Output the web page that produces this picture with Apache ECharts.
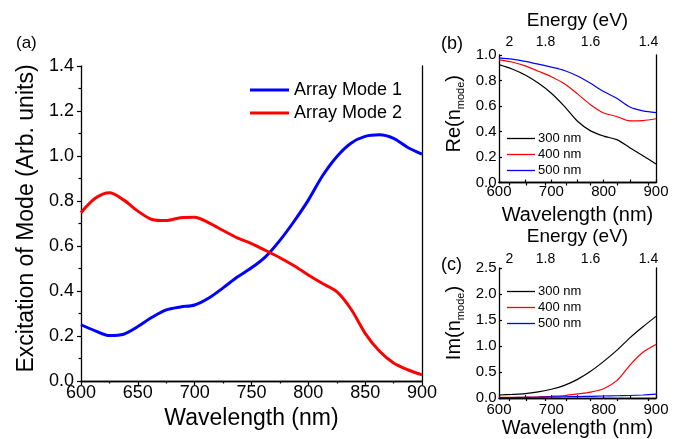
<!DOCTYPE html>
<html>
<head>
<meta charset="utf-8">
<script src="https://cdn.jsdelivr.net/npm/echarts@6/dist/echarts.min.js"></script>
<style>
  html, body { margin: 0; padding: 0; background: #fff; }
  #chart { width: 685px; height: 439px; }
</style>
</head>
<body>
<div id="chart"></div>
<script>
// (a) excitation of the two array modes
const wlA = [600, 612.5, 625, 637.5, 650, 662.5, 675, 687.5, 700, 712.5, 725, 737.5, 750,
             762.5, 775, 787.5, 800, 812.5, 825, 837.5, 850, 862.5, 875, 887.5, 900];
const mode1 = [0.25, 0.223, 0.202, 0.208, 0.242, 0.283, 0.316, 0.329, 0.338, 0.369, 0.414, 0.462, 0.503,
               0.553, 0.625, 0.71, 0.804, 0.912, 0.997, 1.057, 1.087, 1.094, 1.078, 1.038, 1.008];
const mode2 = [0.748, 0.812, 0.837, 0.805, 0.755, 0.718, 0.713, 0.726, 0.728, 0.703, 0.669, 0.636, 0.611,
               0.58, 0.548, 0.512, 0.471, 0.433, 0.397, 0.32, 0.212, 0.133, 0.08, 0.05, 0.027];

// (b), (c) effective mode index for three widths
const wlB = [600, 625, 650, 675, 700, 725, 750, 775, 800, 825, 850, 875, 900];
const re300 = [0.925, 0.89, 0.843, 0.78, 0.70, 0.597, 0.48, 0.405, 0.364, 0.336, 0.273, 0.21, 0.145];
const re400 = [0.962, 0.945, 0.915, 0.873, 0.83, 0.775, 0.695, 0.61, 0.545, 0.518, 0.484, 0.486, 0.50];
const re500 = [0.978, 0.967, 0.95, 0.928, 0.905, 0.878, 0.835, 0.778, 0.713, 0.66, 0.592, 0.562, 0.548];
const im300 = [0.06, 0.07, 0.085, 0.12, 0.17, 0.245, 0.36, 0.515, 0.706, 0.918, 1.157, 1.37, 1.57];
const im400 = [0.015, 0.015, 0.018, 0.025, 0.035, 0.05, 0.08, 0.115, 0.18, 0.335, 0.63, 0.88, 1.03];
const im500 = [0.01, 0.012, 0.015, 0.018, 0.022, 0.026, 0.03, 0.035, 0.04, 0.045, 0.05, 0.06, 0.075];

const widths = ['300 nm', '400 nm', '500 nm'];
const energyTicks = [2, 1.9, 1.8, 1.7, 1.6, 1.5, 1.4];
const energyLabels = [2, 1.8, 1.6, 1.4];

const FONT = 'Liberation Sans';
const K = '#000';
const toWl = e => 1240 / e;
const pairs = (xs, ys) => xs.map((x, i) => [x, ys[i]]);

const chart = echarts.init(document.getElementById('chart'), null, { renderer: 'canvas' });

const frameLine = { show: true, lineStyle: { color: K, width: 1.3 } };
const subRich = { s: { fontSize: 11, fontFamily: FONT, color: K, padding: [12, 0, 0, 0] } };

function bottomX(grid, gap, margin, nameSize, inside, a) {
  return {
    type: 'value', gridIndex: grid, min: 600, max: 900, interval: a ? 50 : 100,
    name: 'Wavelength (nm)', nameLocation: 'middle', nameGap: gap,
    nameTextStyle: { fontFamily: FONT, fontSize: nameSize, color: K },
    axisLine: frameLine,
    axisTick: { show: true, inside: inside, length: a ? 4 : 3, lineStyle: { color: K, width: 1.2 } },
    minorTick: { show: true, splitNumber: 2, length: a ? 2.5 : 3, lineStyle: { color: K, width: 1.2 } },
    axisLabel: { margin: margin, fontFamily: FONT, fontSize: a ? 18 : 15, color: K },
    splitLine: { show: false }
  };
}

function energyX(grid, gap, margin) {
  return {
    type: 'value', gridIndex: grid, position: 'top', min: 600, max: 900,
    name: 'Energy (eV)', nameLocation: 'middle', nameGap: gap,
    nameTextStyle: { fontFamily: FONT, fontSize: 19, color: K },
    axisLine: frameLine,
    axisTick: { show: true, inside: true, length: 3, customValues: energyTicks.map(toWl), lineStyle: { color: K, width: 1.2 } },
    axisLabel: {
      margin: margin, fontFamily: FONT, fontSize: 14, color: K,
      customValues: energyLabels.map(toWl),
      formatter: v => String(Math.round(1240 / v * 10) / 10)
    },
    splitLine: { show: false }
  };
}

function plainAxis(grid, pos, min, max) {
  return {
    type: 'value', gridIndex: grid, position: pos, min: min, max: max,
    axisLine: frameLine, axisTick: { show: false }, axisLabel: { show: false }, splitLine: { show: false }
  };
}

function leftY(grid, max, interval, name, gap, size, shift, a) {
  return {
    type: 'value', gridIndex: grid, min: 0, max: max, interval: interval,
    name: name, nameLocation: 'middle', nameGap: gap, nameRotate: 90,
    nameTextStyle: { fontFamily: FONT, fontSize: size, color: K, padding: [0, 0, 0, shift], rich: subRich },
    axisLine: frameLine,
    axisTick: { show: true, inside: !a, length: a ? 4 : 3, lineStyle: { color: K, width: 1.2 } },
    minorTick: { show: !!a, splitNumber: 2, length: 2.5, lineStyle: { color: K, width: 1.2 } },
    axisLabel: { margin: a ? 7 : 2.5, fontFamily: FONT, fontSize: a ? 18 : 15, color: K, formatter: v => v.toFixed(1) },
    splitLine: { show: false }
  };
}

function thin(name, color, xi, data) {
  return {
    name: name, type: 'line', xAxisIndex: xi, yAxisIndex: xi, data: data,
    symbol: 'none', smooth: 0.3, lineStyle: { color: color, width: 1.2 }, itemStyle: { color: color }
  };
}

const smallLegend = top => ({
  orient: 'vertical', left: 502, top: top, data: widths, icon: 'rect',
  itemWidth: 28, itemHeight: 1.3, itemGap: 3,
  textStyle: { fontFamily: FONT, fontSize: 13, color: K, padding: [0, 0, 0, -2] }
});

chart.setOption({
  animation: false,
  backgroundColor: '#fff',
  grid: [
    { left: 81, top: 66, width: 341, height: 315 },
    { left: 499, top: 55, width: 157, height: 127.5 },
    { left: 499, top: 268, width: 157, height: 131 }
  ],
  legend: [
    {
      orient: 'vertical', left: 245, top: 76, data: ['Array Mode 1', 'Array Mode 2'], icon: 'rect',
      itemWidth: 39, itemHeight: 3, itemGap: 5,
      textStyle: { fontFamily: FONT, fontSize: 18, color: K }
    },
    smallLegend(127),
    smallLegend(280)
  ],
  graphic: [
    { type: 'text', left: 16, top: 35, style: { text: '(a)', font: '17px ' + FONT, fill: K } },
    { type: 'text', left: 441, top: 35, style: { text: '(b)', font: '18px ' + FONT, fill: K } },
    { type: 'text', left: 441, top: 256, style: { text: '(c)', font: '18px ' + FONT, fill: K } }
  ],
  xAxis: [
    bottomX(0, 23.5, 3, 23, false, true),
    plainAxis(0, 'top', 600, 900),
    bottomX(1, 22.5, 1.5, 20, true, false),
    energyX(1, 25, 6),
    bottomX(2, 19.5, 4, 20, true, false),
    energyX(2, 21.5, 1.5)
  ],
  yAxis: [
    leftY(0, 1.4, 0.2, 'Excitation of Mode (Arb. units)', 43, 23, 10, true),
    plainAxis(0, 'right', 0, 1.4),
    leftY(1, 1.0, 0.2, 'Re(n{s|mode})', 33, 20, 10, false),
    plainAxis(1, 'right', 0, 1.0),
    leftY(2, 2.5, 0.5, 'Im(n{s|mode})', 33, 20, 20, false),
    plainAxis(2, 'right', 0, 2.5)
  ],
  series: [
    {
      name: 'Array Mode 1', type: 'line', xAxisIndex: 0, yAxisIndex: 0, data: pairs(wlA, mode1),
      symbol: 'none', smooth: 0.3, lineStyle: { color: '#0000ff', width: 3 }, itemStyle: { color: '#0000ff' }
    },
    {
      name: 'Array Mode 2', type: 'line', xAxisIndex: 0, yAxisIndex: 0, data: pairs(wlA, mode2),
      symbol: 'none', smooth: 0.3, lineStyle: { color: '#ff0000', width: 3 }, itemStyle: { color: '#ff0000' }
    },
    thin(widths[0], '#000000', 2, pairs(wlB, re300)),
    thin(widths[1], '#ff0000', 2, pairs(wlB, re400)),
    thin(widths[2], '#0000ff', 2, pairs(wlB, re500)),
    thin(widths[0], '#000000', 4, pairs(wlB, im300)),
    thin(widths[1], '#ff0000', 4, pairs(wlB, im400)),
    thin(widths[2], '#0000ff', 4, pairs(wlB, im500))
  ]
});
</script>
</body>
</html>
